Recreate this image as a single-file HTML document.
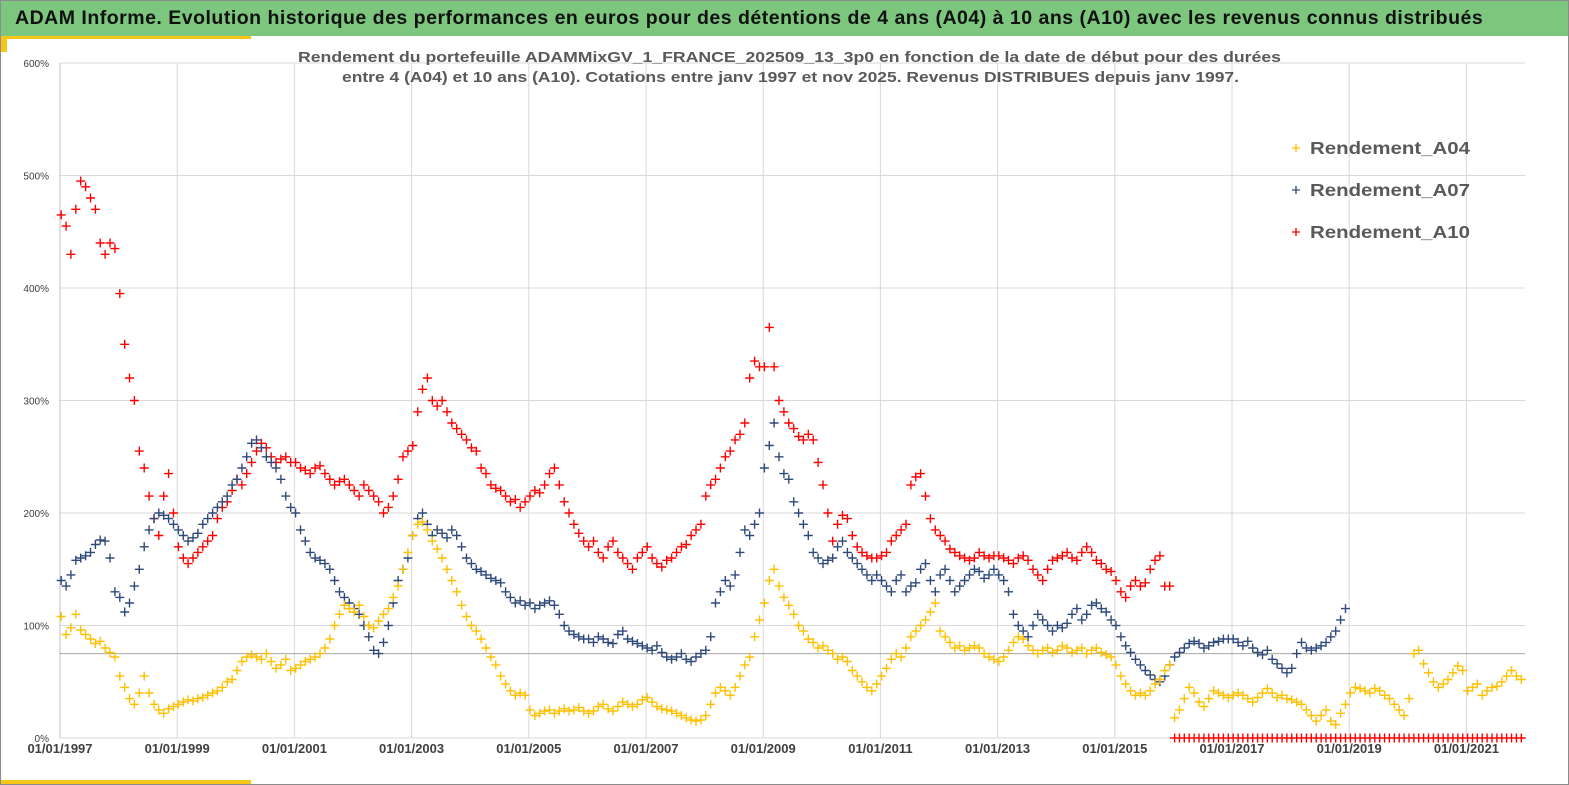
<!DOCTYPE html>
<html><head><meta charset="utf-8">
<style>
body{margin:0;width:1569px;height:785px;overflow:hidden;background:#fff;font-family:"Liberation Sans",sans-serif;}
#wrap{position:relative;width:1567px;height:783px;border:1px solid #8c8c8c;}
#hdr{position:absolute;left:0;top:0;width:1567px;height:35px;background:#7dc67e;}
#hdr span{position:absolute;left:14px;top:6px;font-size:19.5px;font-weight:bold;color:#111;white-space:nowrap;letter-spacing:0.5px;}
</style></head>
<body>
<div id="wrap">
<div id="hdr"><span>ADAM Informe. Evolution historique des performances en euros pour des détentions de 4 ans (A04) à 10 ans (A10) avec les revenus connus distribués</span></div>
<div style="position:absolute;left:0;top:35px;width:250px;height:3px;background:#f5c518"></div>
<div style="position:absolute;left:0;top:35px;width:6px;height:16px;background:#f5c518"></div>
<div style="position:absolute;left:0;top:779px;width:250px;height:4px;background:#f5c518"></div>
<svg id="chart" width="1567" height="783" style="position:absolute;left:0;top:0"></svg>
</div>
<script>
const yearLabels=["01/01/1997","01/01/1999","01/01/2001","01/01/2003","01/01/2005","01/01/2007","01/01/2009","01/01/2011","01/01/2013","01/01/2015","01/01/2017","01/01/2019","01/01/2021"];
const tickYears=[1997,1999,2001,2003,2005,2007,2009,2011,2013,2015,2017,2019,2021];
const yTicks=[0,100,200,300,400,500,600];
const refLine=75;
const startYear=1997;
const a04=[
108,92,98,110,96,92,88,84,86,80,76,72,
55,45,35,30,40,55,40,30,25,22,26,28,
30,32,34,33,35,36,38,40,42,45,50,52,
60,68,72,74,72,70,75,68,62,65,70,60,
62,65,68,70,72,75,80,88,100,110,118,115,
112,118,108,100,98,104,110,115,125,135,150,165,
180,190,192,185,175,168,160,150,140,130,118,108,
100,95,88,80,72,65,55,48,42,38,40,38,
25,20,22,24,25,22,24,26,24,25,27,24,
22,24,28,30,26,24,28,32,30,28,30,34,
36,32,28,26,25,24,22,20,18,16,15,16,
20,30,40,45,42,38,45,55,65,72,90,105,
120,140,150,135,125,118,110,100,95,88,85,80,
82,78,75,70,72,68,60,55,50,45,42,48,
55,62,70,75,72,80,90,95,100,105,112,120,
95,90,85,80,82,78,80,82,80,75,72,70,
68,72,78,85,90,88,82,78,75,78,80,76,
78,82,80,76,78,80,75,78,80,76,74,72,
65,55,48,42,38,40,38,42,48,52,60,65,
18,25,35,45,40,32,28,35,42,40,38,36,
38,40,38,35,32,36,40,44,40,36,38,35,
34,32,30,25,20,15,20,25,15,12,22,30,
40,45,44,42,40,44,42,38,35,30,25,20,
35,75,78,66,58,50,45,48,52,58,64,60,
42,45,48,38,42,45,46,50,55,60,55,52];
const a07=[
140,135,145,158,160,162,165,172,176,175,160,130,
125,112,120,135,150,170,185,195,200,198,195,190,
185,180,175,178,182,190,195,200,205,210,215,225,
230,240,250,262,265,258,250,245,240,230,215,205,
200,185,175,165,160,158,155,150,140,130,125,120,
115,110,100,90,78,75,85,100,120,140,150,160,
180,195,200,190,180,185,182,178,185,180,170,160,
155,150,148,145,142,140,138,130,125,120,122,118,
120,115,118,120,122,118,110,100,95,92,90,88,
88,85,90,88,85,84,92,95,88,86,84,82,
80,78,82,76,72,70,72,75,70,68,72,75,
78,90,120,130,140,135,145,165,185,180,190,200,
240,260,280,250,235,230,210,200,190,180,165,160,
155,158,160,170,175,165,160,155,150,145,140,145,
140,135,130,140,145,130,135,138,150,155,140,130,
145,150,140,130,135,140,145,150,148,142,145,150,
145,140,130,110,100,95,90,100,110,105,100,95,
100,98,102,110,115,105,110,118,120,115,112,105,
100,90,82,76,70,65,60,56,52,50,55,65,
72,76,80,84,86,84,80,82,85,86,88,88,
88,85,82,86,80,76,74,78,70,66,62,58,
62,75,85,80,78,80,82,85,90,95,105,115];
const a10=[
465,455,430,470,495,490,480,470,440,430,440,435,
395,350,320,300,255,240,215,195,180,215,235,200,
170,160,155,160,165,170,175,180,195,205,210,220,
230,225,235,245,255,262,258,250,245,248,250,245,
245,240,238,235,240,242,235,230,225,228,230,225,
220,215,225,220,215,210,200,205,215,230,250,255,
260,290,310,320,300,295,300,290,280,275,270,265,
258,255,240,235,225,222,220,215,210,212,205,210,
215,220,218,225,235,240,225,210,200,190,182,175,
170,175,165,160,170,175,165,160,155,150,160,165,
170,160,155,152,158,160,165,170,172,180,185,190,
215,225,230,240,250,255,265,270,280,320,335,330,
330,365,330,300,290,280,275,268,265,270,265,245,
225,200,175,190,198,195,180,170,165,162,160,160,
162,165,175,180,185,190,225,232,235,215,195,185,
180,175,168,165,162,160,158,160,165,162,160,162,
162,160,158,155,160,162,158,150,145,140,150,158,
160,162,165,160,158,165,170,165,158,155,150,148,
140,130,125,135,140,135,138,150,158,162,135,135,
0,0,0,0,0,0,0,0,0,0,0,0,
0,0,0,0,0,0,0,0,0,0,0,0,
0,0,0,0,0,0,0,0,0,0,0,0,
0,0,0,0,0,0,0,0,0,0,0,0,
0,0,0,0,0,0,0,0,0,0,0,0,
0,0,0,0,0,0,0,0,0,0,0,0];
const seriesNames=["Rendement_A04","Rendement_A07","Rendement_A10"];

const NS="http://www.w3.org/2000/svg";
const svg=document.getElementById('chart');
const X0=59,PXY=58.6,Y0=737,PXV=1.125,XR=1524;
function xs(year){return X0+(year-startYear)*PXY;}
function ys(v){return Y0-v*PXV;}
function mk(tag,attrs,parent){const e=document.createElementNS(NS,tag);for(const k in attrs)e.setAttribute(k,attrs[k]);(parent||svg).appendChild(e);return e;}

const grid=mk('g',{});


yTicks.forEach(t=>{
  const l=mk('line',{x1:X0,x2:XR,y1:ys(t),y2:ys(t),stroke:'#d9d9d9','stroke-width':1},grid);
  
  
  const tx=mk('text',{x:48,y:ys(t)+4,'text-anchor':'end','font-size':10,fill:'#404040'});
  tx.textContent=t+'%';
  
  
});
tickYears.forEach((yr,i)=>{
  const l=mk('line',{x1:xs(yr),x2:xs(yr),y1:ys(600),y2:Y0,stroke:'#d9d9d9','stroke-width':1},grid);
  
  
  const tx=mk('text',{x:xs(yr),y:752,'text-anchor':'middle','font-size':13,'font-weight':'bold',fill:'#404040'});
  tx.textContent=yearLabels[i];
  
  
});
const axis=mk('line',{x1:X0,x2:X0,y1:ys(600),y2:Y0,stroke:'#bfbfbf','stroke-width':1});


const rl=mk('line',{x1:X0,x2:XR,y1:ys(refLine),y2:ys(refLine),stroke:'#a6a6a6','stroke-width':1});



function plot(arr,color,name){
  const g=mk('g',{stroke:color,'stroke-width':1.4,fill:'none'});
  
  
  let d='';
  arr.forEach((v,i)=>{
    const x=xs(startYear+i/12+0.02),y=ys(v);
    d+=`M${(x-4.5).toFixed(1)} ${y.toFixed(1)}h9M${x.toFixed(1)} ${(y-4.5).toFixed(1)}v9`;
  });
  const p=mk('path',{d:d},g);
  
  
}
plot(a10,'#ff0000','series-a10');
plot(a07,'#2f4a7a','series-a07');
plot(a04,'#ffc000','series-a04');

const t1=mk('text',{x:297,y:61,'font-size':15,'font-weight':'bold',fill:'#595959',textLength:983,lengthAdjust:'spacingAndGlyphs'});
t1.textContent='Rendement du portefeuille ADAMMixGV_1_FRANCE_202509_13_3p0  en fonction de la date de début pour des durées';


const t2=mk('text',{x:341,y:81,'font-size':15,'font-weight':'bold',fill:'#595959',textLength:897,lengthAdjust:'spacingAndGlyphs'});
t2.textContent='entre 4 (A04)  et 10 ans (A10). Cotations  entre janv 1997 et nov 2025. Revenus DISTRIBUES depuis janv 1997.';



const cols=['#ffc000','#2f4a7a','#ff0000'];
seriesNames.forEach((n,i)=>{
  const g=mk('g',{});
  
  
  const y=147+i*42;
  mk('path',{d:`M1291 ${y}h8M1295 ${y-4}v8`,stroke:cols[i],'stroke-width':1.3},g);
  const tx=mk('text',{x:1309,y:y+6,'font-size':17.5,'font-weight':'bold',fill:'#595959',textLength:160,lengthAdjust:'spacingAndGlyphs'},g);
  tx.textContent=n;
});
</script>
</body></html>
